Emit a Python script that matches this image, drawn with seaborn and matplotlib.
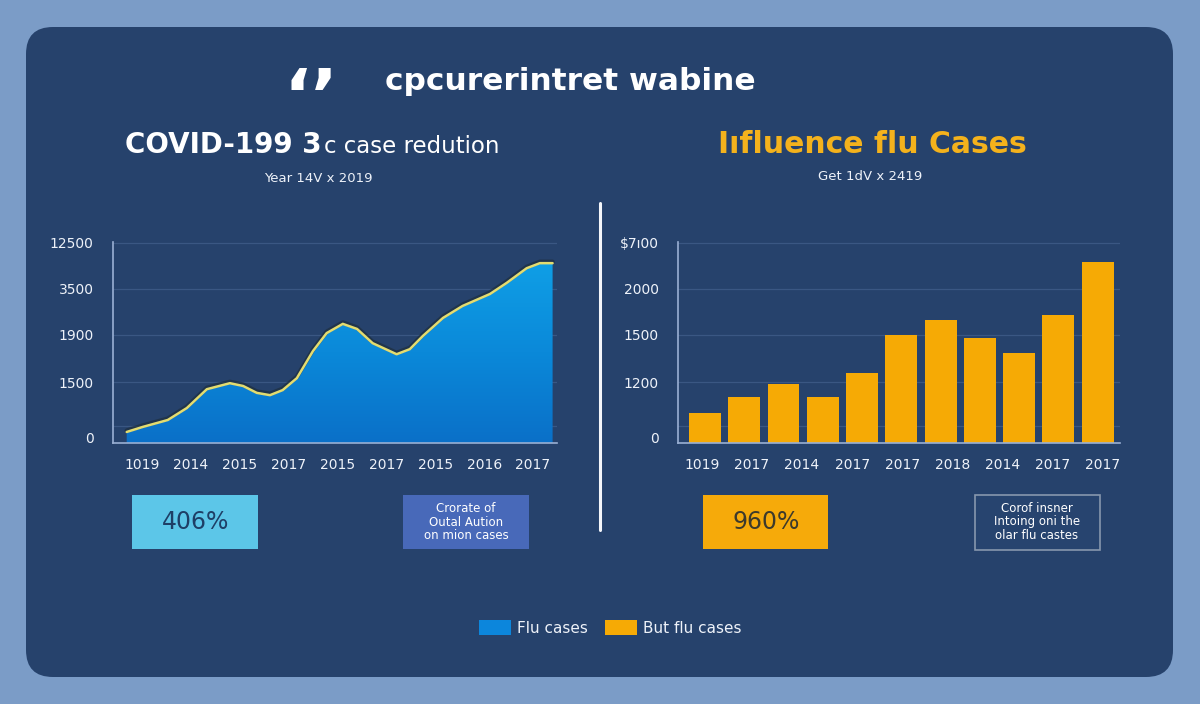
import numpy as np
import pandas as pd
import seaborn as sns
import matplotlib
matplotlib.use("Agg")
import matplotlib.pyplot as plt
from matplotlib.patches import FancyBboxPatch, Rectangle, Patch
from matplotlib.lines import Line2D
from matplotlib.colors import LinearSegmentedColormap
from matplotlib.transforms import IdentityTransform

sns.set_style("white")
plt.rcParams['font.family'] = ['DejaVu Sans']

# ---------------- data ----------------
covid_pos = [-0.31, 0.02, 0.53, 0.92, 1.33, 1.80, 2.07, 2.35, 2.62, 2.88, 3.17, 3.50, 3.78,
             4.11, 4.40, 4.72, 5.21, 5.48, 5.75, 6.16, 6.56, 7.12, 7.46, 7.87, 8.14, 8.40]
covid_vals = [0.24, 0.35, 0.50, 0.76, 1.17, 1.30, 1.24, 1.09, 1.04, 1.15, 1.41, 2.00, 2.39,
              2.59, 2.48, 2.17, 1.93, 2.04, 2.33, 2.72, 2.98, 3.24, 3.48, 3.80, 3.91, 3.91]
covid_xlabels = ["1019", "2014", "2015", "2017", "2015", "2017", "2015", "2016", "2017"]
covid_ylabels = ["0", "1500", "1900", "3500", "12500"]

flu_vals = [0.65, 1.00, 1.28, 1.00, 1.52, 2.35, 2.67, 2.28, 1.96, 2.78, 3.93]
flu_xlabels = ["1019", "2017", "2014", "2017", "2017", "2018", "2014", "2017", "2017"]
flu_ylabels = ["0", "1200", "1500", "2000", "\\$7ı00"]

main_title = "cpcurerintret wabine"
left_title_bold = "COVID-199 3"
left_title_rest = "c case redution"
left_subtitle = "Year 14V x 2019"
right_title = "Iıfluence flu Cases"
right_subtitle = "Get 1dV x 2419"
left_stat = "406%"
left_note = "Crorate of\nOutal Aution\non mion cases"
right_stat = "960%"
right_note = "Corof insner\nIntoing oni the\nolar flu castes"
legend_labels = ["Flu cases", "But flu cases"]

# ---------------- style ----------------
W, H = 1200, 704
OUTER = "#7b9cc7"
PANEL = "#26426c"
WHITE = "#eef2f9"
SPINE = "#9ab0d4"
GRID = "#3a5783"
BLUE = "#0c86dc"
ORANGE = "#f6aa05"
LINE = "#e3dc70"

ytick_pos = [0.11, 1.31, 2.35, 3.35, 4.35]
grid_pos = [0.37, 1.33, 2.35, 3.35, 4.35]
YMAX = 4.37

fig = plt.figure(figsize=(W / 100, H / 100), dpi=100, facecolor=OUTER)

panel = FancyBboxPatch((26, 27), 1147, 650, boxstyle="round,pad=0,rounding_size=27",
                       facecolor=PANEL, edgecolor="none", transform=IdentityTransform(), zorder=-10)
fig.add_artist(panel)


def fx(x):
    return x / W


def fy(y):
    return 1 - y / H


def style_axes(ax):
    ax.set_facecolor("none")
    for s in ["top", "right"]:
        ax.spines[s].set_visible(False)
    for s in ["left", "bottom"]:
        ax.spines[s].set_color(SPINE)
        ax.spines[s].set_linewidth(1.2)
    ax.set_ylim(0, YMAX)
    ax.set_yticks(ytick_pos)
    for g in grid_pos:
        ax.axhline(g, color=GRID, lw=0.9, zorder=0.5)
    ax.tick_params(axis="y", length=0, pad=14, colors=WHITE, labelsize=10)
    ax.tick_params(axis="x", length=0, pad=11, colors=WHITE, labelsize=10)
    ax.set_xlabel("")
    ax.set_ylabel("")


# ---------------- left: area chart ----------------
ax1 = fig.add_axes([fx(113), fy(443), (557 - 113) / W, (443 - 242) / H])
df_c = pd.DataFrame({"pos": covid_pos, "val": covid_vals})
poly = ax1.fill_between(df_c["pos"], 0, df_c["val"], facecolor="none", edgecolor="none")
cmap = LinearSegmentedColormap.from_list("g", ["#0a70c8", "#0b89d9", "#0f9fe6"])
grad = np.linspace(0, 1, 256).reshape(-1, 1)
im = ax1.imshow(grad, extent=[-0.6, 8.5, 0, 3.95], origin="lower", aspect="auto", cmap=cmap, zorder=1)
im.set_clip_path(poly.get_paths()[0], transform=ax1.transData)
ax1.plot(df_c["pos"], df_c["val"] + 0.03, color="#1d2b35", lw=3.2, alpha=0.6, zorder=2,
         solid_joinstyle="round", solid_capstyle="round")
sns.lineplot(data=df_c, x="pos", y="val", ax=ax1, color=LINE, lw=1.8, sort=False,
             estimator=None, zorder=3)
ax1.lines[-1].set_solid_joinstyle("round")
style_axes(ax1)
ax1.set_xlim(-0.59, 8.49)
ax1.set_ylim(0, YMAX)
ax1.set_xticks(range(len(covid_xlabels)))
ax1.set_xticklabels(covid_xlabels)
ax1.set_xticks(np.arange(len(covid_xlabels) - 1) + 0.5, minor=True)
ax1.tick_params(axis="x", which="minor", length=4, color=SPINE, width=1, direction="out")
ax1.set_yticklabels(covid_ylabels)

# ---------------- right: bar chart ----------------
ax2 = fig.add_axes([fx(678), fy(443), (1120 - 678) / W, (443 - 242) / H])
df_f = pd.DataFrame({"idx": list(range(len(flu_vals))), "val": flu_vals})
sns.barplot(data=df_f, x="idx", y="val", ax=ax2, color=ORANGE, saturation=1, width=0.81,
            native_scale=True, zorder=2, edgecolor="none", linewidth=0)
style_axes(ax2)
ax2.set_xlim(-0.69, 10.57)
ax2.set_ylim(0, YMAX)
ax2.set_xticks(np.linspace(-0.08, 10.12, len(flu_xlabels)))
ax2.set_xticklabels(flu_xlabels)
ax2.set_yticklabels(flu_ylabels)

# ---------------- divider ----------------
fig.add_artist(Line2D([fx(600), fx(600)], [fy(203), fy(530)], color="#f4f6fa", lw=2.2))

# ---------------- titles ----------------
fig.text(fx(311), fy(120), "‘’", color="white", fontsize=52, fontweight="bold",
         ha="center", va="baseline")
fig.text(fx(570), fy(90), main_title, color="white", fontsize=22.5, fontweight="bold", ha="center", va="baseline")
fig.text(fx(322), fy(153), left_title_bold, color="white", fontsize=20, fontweight="bold", ha="right", va="baseline")
fig.text(fx(324), fy(153), left_title_rest, color="white", fontsize=16.5, ha="left", va="baseline")
fig.text(fx(318), fy(178), left_subtitle, color=WHITE, fontsize=9.5, ha="center", va="center")
fig.text(fx(872), fy(153), right_title, color="#f4b21c", fontsize=21.5, fontweight="bold", ha="center", va="baseline")
fig.text(fx(870), fy(177), right_subtitle, color=WHITE, fontsize=9.5, ha="center", va="center")


# ---------------- stat boxes ----------------
def box(x0, y0, x1, y1, face, edge="none", lw=0):
    fig.add_artist(Rectangle((fx(x0), fy(y1)), (x1 - x0) / W, (y1 - y0) / H, transform=fig.transFigure,
                             facecolor=face, edgecolor=edge, linewidth=lw))


box(132, 495, 258, 549, "#5cc6e8")
fig.text(fx(196), fy(522), left_stat, color="#1e3f66", fontsize=17, ha="center", va="center")
box(403, 495, 529, 549, "#4869b9")
fig.text(fx(466), fy(522), left_note, color="white", fontsize=8.5, ha="center", va="center", linespacing=1.05)
box(703, 495, 828, 549, "#f6aa0a")
fig.text(fx(766), fy(522), right_stat, color="#3d3a2c", fontsize=17, ha="center", va="center")
box(975, 495, 1100, 550, "#27446f", edge="#8797ad", lw=1.2)
fig.text(fx(1037), fy(522), right_note, color="white", fontsize=8.5, ha="center", va="center", linespacing=1.05)

# ---------------- legend ----------------
handles = [Patch(facecolor=BLUE, edgecolor="none"), Patch(facecolor=ORANGE, edgecolor="none")]
leg = fig.legend(handles, legend_labels, loc="center", bbox_to_anchor=(fx(610), fy(628)), ncol=2,
                 frameon=False, fontsize=11, handlelength=2.1, handleheight=1.1, columnspacing=1.1,
                 handletextpad=0.4)
for t in leg.get_texts():
    t.set_color(WHITE)

fig.savefig("out.png", dpi=100, facecolor=OUTER)
